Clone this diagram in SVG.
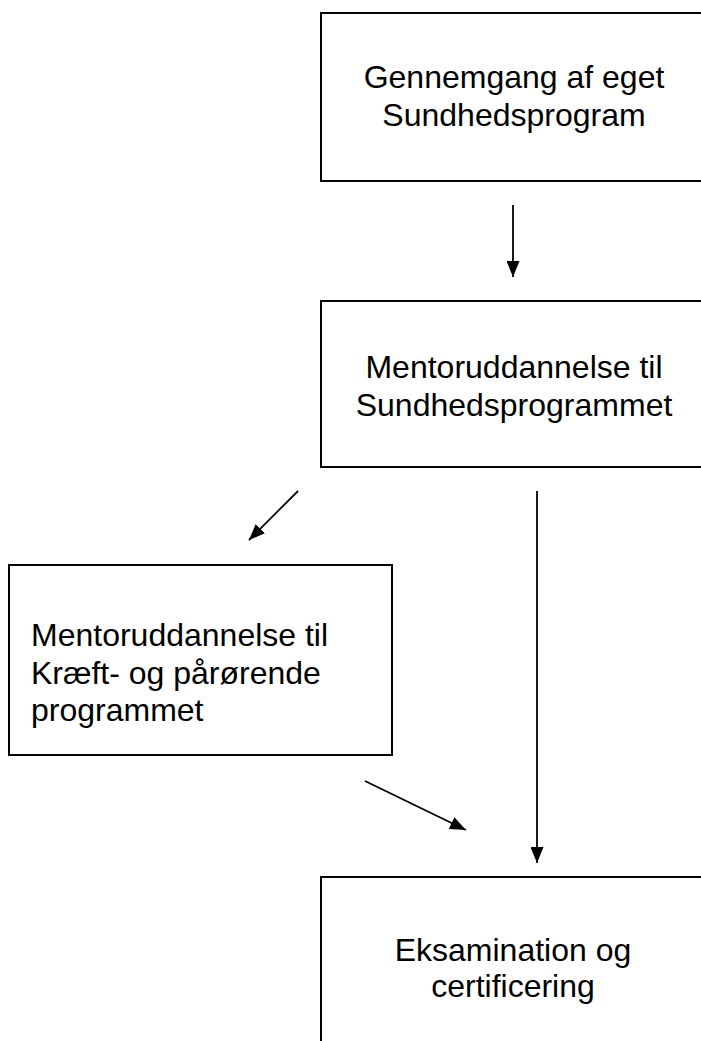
<svg xmlns="http://www.w3.org/2000/svg" width="701" height="1041" viewBox="0 0 701 1041">
<style>
.box{fill:none;stroke:#000;stroke-width:2}
.t{font-family:"Liberation Sans",Arial,sans-serif;font-size:32px;fill:#000}
.c{text-anchor:middle}
.ln{stroke:#000;stroke-width:1.8;fill:none}
</style>
<defs>
<marker id="ah" markerWidth="16" markerHeight="13" refX="16" refY="6.5" orient="auto" markerUnits="userSpaceOnUse" viewBox="0 0 16 13">
<path d="M0,0 L16,6.5 L0,13 Z" fill="#000"/>
</marker>
</defs>
<rect width="701" height="1041" fill="#fff"/>
<g id="node1">
<path class="box" d="M702,13 L321,13 L321,181 L702,181"/>
<text class="t c" x="514" y="88">Gennemgang af eget</text>
<text class="t c" x="514" y="126">Sundhedsprogram</text>
</g>
<g id="node2">
<path class="box" d="M702,301 L321,301 L321,467 L702,467"/>
<text class="t c" x="514" y="378">Mentoruddannelse til</text>
<text class="t c" x="514" y="416">Sundhedsprogrammet</text>
</g>
<g id="node3">
<rect class="box" x="9" y="565" width="383" height="190"/>
<text class="t" x="31" y="646">Mentoruddannelse til</text>
<text class="t" x="31" y="684">Kræft- og pårørende</text>
<text class="t" x="31" y="721">programmet</text>
</g>
<g id="node4">
<path class="box" d="M321,1045 L321,877 L702,877"/>
<text class="t c" x="513" y="961">Eksamination og</text>
<text class="t c" x="513" y="997">certificering</text>
</g>
<g id="connectors">
<line class="ln" x1="513" y1="205" x2="513" y2="277" marker-end="url(#ah)"/>
<line class="ln" x1="298" y1="491" x2="249" y2="540" marker-end="url(#ah)"/>
<line class="ln" x1="537" y1="491" x2="537" y2="863" marker-end="url(#ah)"/>
<line class="ln" x1="365" y1="781" x2="466" y2="830" marker-end="url(#ah)"/>
</g>
</svg>
